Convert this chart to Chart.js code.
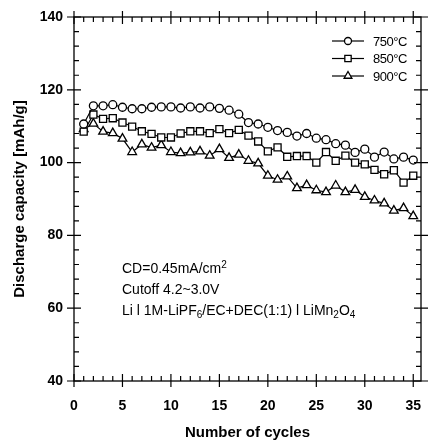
<!DOCTYPE html>
<html>
<head>
<meta charset="utf-8">
<title>Discharge capacity vs cycles</title>
<script src="https://cdn.jsdelivr.net/npm/chart.js"></script>
<style>
  html, body { margin: 0; padding: 0; background: #fff; }
  #wrap { width: 429px; height: 443px; }
</style>
</head>
<body>
<div id="wrap"><canvas id="chart" width="429" height="443"></canvas></div>
<script>
// values
const cycles = [1, 2, 3, 4, 5, 6, 7, 8, 9, 10, 11, 12, 13, 14, 15, 16, 17, 18,
                19, 20, 21, 22, 23, 24, 25, 26, 27, 28, 29, 30, 31, 32, 33, 34, 35];
const cap750 = [110.6, 115.6, 115.6, 115.9, 115.2, 114.8, 114.8, 115.2, 115.3, 115.3, 115.0, 115.3,
                115.0, 115.3, 114.9, 114.4, 113.3, 111.0, 110.6, 109.7, 108.8, 108.3, 107.3, 108.0,
                106.7, 106.3, 105.2, 104.8, 102.8, 103.7, 101.5, 102.9, 101.0, 101.5, 100.7];
const cap850 = [108.5, 113.2, 112.0, 112.2, 111.0, 109.9, 108.6, 107.9, 106.9, 106.9, 108.0, 108.6,
                108.6, 108.1, 109.2, 108.1, 109.0, 107.4, 105.8, 103.1, 104.2, 101.6, 101.8, 101.8,
                100.0, 102.9, 100.5, 101.9, 100.0, 99.5, 98.0, 96.8, 97.9, 94.5, 96.4];
const cap900 = [109.2, 110.7, 108.5, 108.1, 106.6, 102.9, 105.0, 104.1, 104.8, 102.9, 102.6, 102.8,
                103.1, 101.9, 103.7, 101.3, 102.2, 100.5, 99.8, 96.4, 95.3, 96.2, 93.0, 93.8,
                92.4, 91.9, 93.7, 91.9, 92.5, 90.6, 89.6, 88.8, 86.8, 87.5, 85.3];
const seriesNames = ['750\u00B0C', '850\u00B0C', '900\u00B0C'];
const xTicks = [0, 5, 10, 15, 20, 25, 30, 35];
const yTicks = [40, 60, 80, 100, 120, 140];

const FONT = '"Liberation Sans", Arial, sans-serif';

function series(label, values, style, radius) {
  return {
    label: label,
    data: cycles.map((c, i) => ({ x: c, y: values[i] })),
    borderColor: '#000',
    borderWidth: 1.2,
    backgroundColor: '#fff',
    pointStyle: style,
    pointRadius: radius,
    pointBorderWidth: 1.3,
    pointBorderColor: '#000',
    pointBackgroundColor: '#fff',
    tension: 0,
    fill: false
  };
}

// frame, inward ticks, legend and notes
const decorations = {
  id: 'decorations',
  afterDraw(chart) {
    const ctx = chart.ctx;
    const a = chart.chartArea;
    const xs = chart.scales.x, ys = chart.scales.y;
    ctx.save();
    ctx.strokeStyle = '#000';
    ctx.lineWidth = 1.3;
    ctx.strokeRect(a.left, a.top, a.right - a.left, a.bottom - a.top);

    ctx.lineWidth = 1.2;
    ctx.beginPath();
    for (let v = 0; v <= 35; v++) {
      const px = xs.getPixelForValue(v);
      const major = v % 5 === 0;
      const out = major ? 6 : 0, inn = major ? 7 : 5;
      ctx.moveTo(px, a.bottom + out); ctx.lineTo(px, a.bottom - inn);
      ctx.moveTo(px, a.top - out); ctx.lineTo(px, a.top + inn);
    }
    for (let v = 40; v <= 140; v += 4) {
      const py = ys.getPixelForValue(v);
      const major = (v - 40) % 20 === 0;
      const out = major ? 7 : 0, inn = major ? 7 : 5;
      ctx.moveTo(a.left - out, py); ctx.lineTo(a.left + inn, py);
      ctx.moveTo(a.right + out, py); ctx.lineTo(a.right - inn, py);
    }
    ctx.stroke();

    // legend
    ctx.font = '13px ' + FONT;
    ctx.textBaseline = 'middle';
    ctx.textAlign = 'left';
    ctx.letterSpacing = '-0.5px';
    chart.data.datasets.forEach((ds, i) => {
      const y = 41 + i * 17.5;
      ctx.lineWidth = 1.2;
      ctx.beginPath();
      ctx.moveTo(332, y); ctx.lineTo(364, y);
      ctx.stroke();
      ctx.fillStyle = '#fff';
      ctx.lineWidth = 1.3;
      Chart.helpers.drawPoint(ctx, { pointStyle: ds.pointStyle, radius: ds.pointRadius - 0.5, borderWidth: 1.3, rotation: 0 }, 348, y);
      ctx.fillStyle = '#000';
      ctx.fillText(ds.label, 373, y + 1);
    });
    ctx.letterSpacing = '0px';

    // notes
    const x0 = 122;
    ctx.textBaseline = 'alphabetic';
    function runs(parts, x, y) {
      parts.forEach(p => {
        if (p.sub) {
          ctx.font = '10px ' + FONT;
          ctx.fillText(p.t, x, y + 3);
        } else if (p.sup) {
          ctx.font = '10px ' + FONT;
          ctx.fillText(p.t, x, y - 5);
        } else {
          ctx.font = '14px ' + FONT;
          ctx.fillText(p.t, x, y);
        }
        x += ctx.measureText(p.t).width;
      });
    }
    runs([{ t: 'CD=0.45mA/cm' }, { t: '2', sup: true }], x0, 273);
    runs([{ t: 'Cutoff 4.2~3.0V' }], x0, 294);
    runs([{ t: 'Li l 1M-LiPF' }, { t: '6', sub: true }, { t: '/EC+DEC(1:1) l LiMn' },
          { t: '2', sub: true }, { t: 'O' }, { t: '4', sub: true }], x0, 315);
    ctx.restore();
  }
};

new Chart(document.getElementById('chart'), {
  type: 'line',
  data: {
    datasets: [
      series(seriesNames[0], cap750, 'circle', 4),
      series(seriesNames[1], cap850, 'rect', 5),
      series(seriesNames[2], cap900, 'triangle', 5)
    ]
  },
  options: {
    responsive: false,
    animation: false,
    layout: { padding: { top: 17, right: 8, left: 0, bottom: 0 } },
    plugins: { legend: { display: false }, tooltip: { enabled: false } },
    scales: {
      x: {
        type: 'linear',
        min: 0,
        max: 35.8,
        afterBuildTicks: s => { s.ticks = xTicks.map(v => ({ value: v })); },
        afterFit: s => { s.height = 62; s.paddingLeft = 0; s.paddingRight = 0; },
        grid: { display: false, drawTicks: false },
        border: { display: false },
        ticks: { padding: 0, maxRotation: 0, color: '#000', font: { family: FONT, size: 14, weight: 'bold', lineHeight: '50px' } },
        title: {
          display: true,
          text: 'Number of cycles',
          color: '#000',
          padding: { top: 0, bottom: 1 },
          font: { family: FONT, size: 15, weight: 'bold' }
        }
      },
      y: {
        min: 40,
        max: 140,
        afterBuildTicks: s => { s.ticks = yTicks.map(v => ({ value: v })); },
        afterFit: s => { s.width = 74; s.paddingTop = 0; s.paddingBottom = 0; },
        grid: { display: false, drawTicks: false },
        border: { display: false },
        ticks: { padding: 11, color: '#000', font: { family: FONT, size: 14, weight: 'bold' } },
        title: {
          display: true,
          text: 'Discharge capacity [mAh/g]',
          color: '#000',
          padding: { top: 11, bottom: 0 },
          font: { family: FONT, size: 15, weight: 'bold' }
        }
      }
    }
  },
  plugins: [decorations]
});
</script>
</body>
</html>
